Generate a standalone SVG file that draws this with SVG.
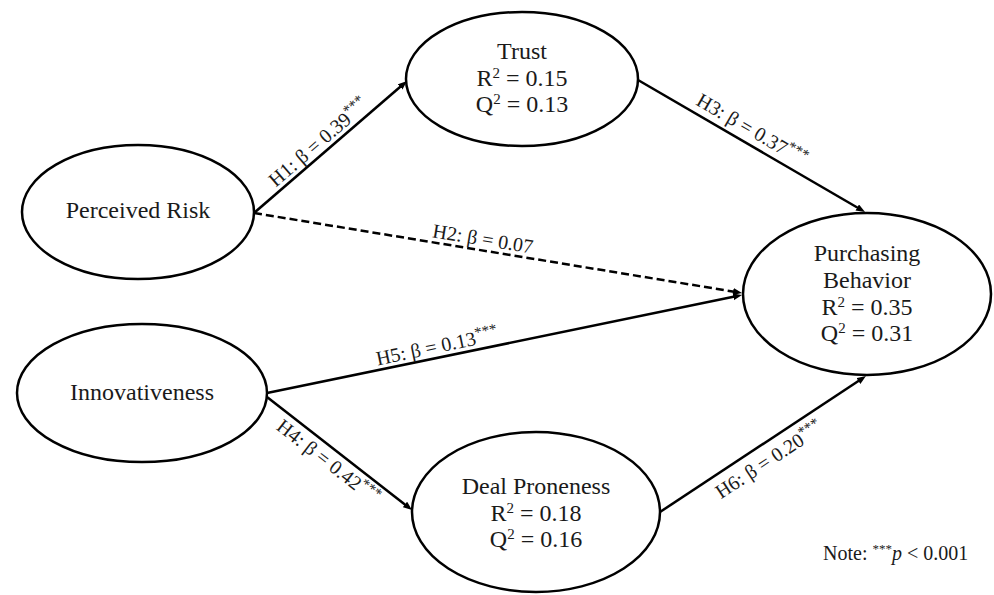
<svg xmlns="http://www.w3.org/2000/svg" width="994" height="595" viewBox="0 0 994 595">
<style>
  .node ellipse { fill: #ffffff; stroke: #000000; stroke-width: 2.5; }
  .nt { font-family: "Liberation Serif", "Times New Roman", serif; font-size: 24px; fill: #1a1a1a; text-anchor: middle; }
  .lbl { font-family: "Liberation Serif", "Times New Roman", serif; font-size: 20px; fill: #1a1a1a; text-anchor: middle; }
  .edge { stroke: #000000; stroke-width: 2.5; fill: none; marker-end: url(#arrow); }
  .dash { stroke-dasharray: 8 4; }
  .note { font-family: "Liberation Serif", "Times New Roman", serif; font-size: 20px; fill: #1a1a1a; }
</style>
<defs>
  <marker id="arrow" markerUnits="userSpaceOnUse" markerWidth="10" markerHeight="8" refX="4" refY="3.5" orient="auto">
    <path d="M0,0 L9,3.5 L0,7 z" fill="#000000"/>
  </marker>
</defs>
<rect width="994" height="595" fill="#ffffff"/>

<g id="connectors">
  <line id="e-h1" class="edge" x1="254" y1="213" x2="403.2" y2="84.3"/>
  <line id="e-h3" class="edge" x1="638" y1="80" x2="860.7" y2="209.5"/>
  <line id="e-h2" class="edge dash" x1="254" y1="213" x2="737.1" y2="292.2"/>
  <line id="e-h5" class="edge" x1="267" y1="393" x2="737.1" y2="296"/>
  <line id="e-h4" class="edge" x1="267" y1="397" x2="408.1" y2="506.9"/>
  <line id="e-h6" class="edge" x1="660" y1="512" x2="861.8" y2="378.8"/>

  <text class="lbl" transform="translate(325.9,151) rotate(-40.8)" x="0" y="-5">H1: β = 0.39<tspan font-size="15" dy="-7">***</tspan></text>
  <text class="lbl" transform="translate(745,141.4) rotate(30.18)" x="0" y="-7">H3: β = 0.37<tspan font-size="15" dy="-7">***</tspan></text>
  <text class="lbl" transform="translate(481,250.3) rotate(9.31)" x="0" y="-5">H2: β = 0.07</text>
  <text class="lbl" transform="translate(439.2,356.7) rotate(-11.89)" x="0" y="-4">H5: β = 0.13<tspan font-size="15" dy="-7">***</tspan></text>
  <text class="lbl" transform="translate(336.4,451.1) rotate(37.93)" x="0" y="20">H4: β = 0.42<tspan font-size="15" dy="-7">***</tspan></text>
  <text class="lbl" transform="translate(760,446) rotate(-33.43)" x="0" y="23">H6: β = 0.20<tspan font-size="15" dy="-7">***</tspan></text>
</g>

<g id="perceived-risk" class="node">
  <ellipse cx="138" cy="212" rx="116" ry="67"/>
  <text class="nt" x="138" y="218">Perceived Risk</text>
</g>

<g id="trust" class="node">
  <ellipse cx="522" cy="79" rx="116" ry="67"/>
  <text class="nt" x="522" y="59">Trust</text>
  <text class="nt" x="522" y="86">R<tspan font-size="15" dy="-8">2</tspan><tspan dy="8"> = 0.15</tspan></text>
  <text class="nt" x="522" y="112">Q<tspan font-size="15" dy="-8">2</tspan><tspan dy="8"> = 0.13</tspan></text>
</g>

<g id="purchasing-behavior" class="node">
  <ellipse cx="867" cy="294" rx="124" ry="81"/>
  <text class="nt" x="867" y="261">Purchasing</text>
  <text class="nt" x="867" y="288">Behavior</text>
  <text class="nt" x="867" y="315">R<tspan font-size="15" dy="-8">2</tspan><tspan dy="8"> = 0.35</tspan></text>
  <text class="nt" x="867" y="341">Q<tspan font-size="15" dy="-8">2</tspan><tspan dy="8"> = 0.31</tspan></text>
</g>

<g id="innovativeness" class="node">
  <ellipse cx="142" cy="393" rx="125" ry="69"/>
  <text class="nt" x="142" y="400">Innovativeness</text>
</g>

<g id="deal-proneness" class="node">
  <ellipse cx="536" cy="512" rx="124" ry="80"/>
  <text class="nt" x="536" y="494">Deal Proneness</text>
  <text class="nt" x="536" y="521">R<tspan font-size="15" dy="-8">2</tspan><tspan dy="8"> = 0.18</tspan></text>
  <text class="nt" x="536" y="547">Q<tspan font-size="15" dy="-8">2</tspan><tspan dy="8"> = 0.16</tspan></text>
</g>

<g id="note">
  <text class="note" x="823" y="560">Note: <tspan font-size="13" dy="-7">***</tspan><tspan dy="7" font-style="italic">p</tspan> &lt; 0.001</text>
</g>
</svg>
